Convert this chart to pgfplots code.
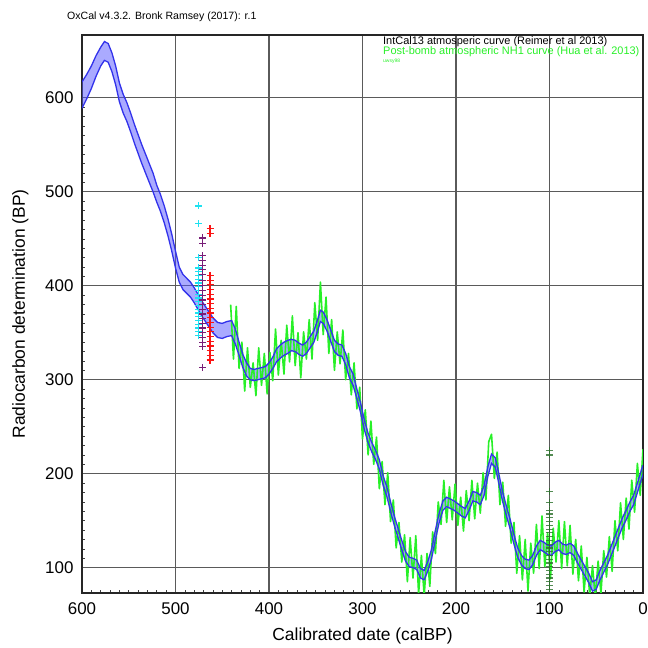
\documentclass[border=0pt]{standalone}
\usepackage{fontspec}
\setmainfont{Liberation Sans}
\usepackage{pgfplots}
\usepackage{pgfplotstable}
\pgfplotsset{compat=1.18}
\usepgfplotslibrary{fillbetween}

\definecolor{bandline}{RGB}{50,50,235}
\definecolor{bandfill}{RGB}{85,85,255}
\definecolor{nhgreen}{RGB}{40,240,40}
\definecolor{gridc}{RGB}{90,90,90}
\definecolor{mcyan}{RGB}{30,225,240}
\definecolor{mpurple}{RGB}{120,30,120}
\definecolor{mred}{RGB}{250,20,20}
\definecolor{mgreen}{RGB}{40,110,40}

% IntCal13: centre c and half width h
\pgfplotstableread{
x c h
600 603 14
595 612 13
590 622 12
585 634 11
580 644 10
576 650 10
572 648 10
568 638 10
564 624 10
560 606 10
556 594 10
552 585 10
548 574 10
544 562 10
540 551 10
536 540 10
532 530 10
528 520 10
524 510 10
520 498 9
516 488 9
512 476 9
508 462 9
504 446 9
500 428 9
496 412 8
492 404 8
488 400 8
484 396 8
480 390 8
476 383 8
472 376 8
468 370 8
464 364 8
460 358 8
455 353 8
450 352 8
445 354 8
440 355 8
436 346 8
432 333 7
428 320 7
424 311 7
420 306 6
416 305 6
412 306 6
408 307 6
404 308 6
400 312 6
396 318 6
392 326 7
388 330 7
384 333 7
380 335 7
376 337 6
372 336 6
368 333 6
364 331 6
360 334 6
356 340 6
352 346 6
348 358 6
345 368 6
342 366 6
338 358 6
334 347 6
330 336 6
326 332 6
322 331 6
318 322 6
314 308 6
310 300 6
306 285 5
302 270 5
298 252 5
294 238 5
290 228 5
286 220 5
282 210 5
278 193 5
274 181 5
270 165 5
266 150 5
262 137 5
258 124 5
254 112 5
250 106 5
246 105 5
242 103 5
238 94 5
234 92 5
230 102 5
226 115 5
222 135 5
218 153 5
214 166 5
210 170 5
206 168 5
202 166 5
198 163 5
194 160 5
190 158 5
186 166 5
182 176 5
178 175 5
174 172 5
170 182 5
166 202 5
162 216 5
158 212 5
154 194 5
150 175 5
146 160 5
142 146 5
138 130 5
134 116 5
130 108 5
126 104 5
122 103 5
118 108 5
114 118 5
110 124 5
106 122 5
102 119 5
98 118 5
94 122 5
90 124 5
86 120 5
82 119 5
78 121 5
74 118 5
70 110 5
66 103 5
62 96 5
58 89 5
54 80 5
50 82 5
46 92 5
42 100 5
38 108 5
34 118 5
30 128 5
26 138 5
22 148 5
18 156 5
14 165 5
10 172 5
6 185 5
2 198 5
0 204 5
}\band

% post-bomb NH1 curve
\pgfplotstableread{
x y
441 380
438 322
435 378
432 312
429 340
426 288
423 334
420 292
417 318
414 283
411 334
408 294
405 328
402 285
399 329
396 299
393 354
390 305
387 342
384 306
381 358
378 319
375 368
372 315
369 350
366 302
363 351
360 322
357 364
354 322
351 382
348 342
345 404
342 348
339 388
336 328
333 364
330 310
327 351
324 317
321 353
318 300
315 328
312 284
309 318
306 269
303 292
300 237
297 268
294 220
291 256
288 210
285 239
282 184
279 213
276 167
273 201
270 149
267 172
264 121
261 148
258 106
255 135
252 85
249 132
246 89
243 134
240 72
237 113
234 70
231 115
228 80
225 138
222 115
219 170
216 146
213 193
210 148
207 186
204 151
201 189
198 145
195 175
192 139
189 182
186 150
183 193
180 152
177 190
174 158
171 201
168 172
165 234
162 242
159 195
156 223
153 167
150 191
147 144
144 177
141 126
138 148
135 94
132 134
129 87
126 130
123 75
120 126
117 94
114 146
111 99
108 155
105 101
102 137
99 88
96 142
93 106
90 150
87 99
84 149
81 102
78 145
75 93
72 130
69 86
66 123
63 74
60 111
57 70
54 102
51 68
48 107
45 72
42 118
39 90
36 133
33 96
30 150
27 118
24 169
21 130
18 174
15 141
12 193
9 159
6 211
3 177
0 226
}\nhone

\begin{document}
\begin{tikzpicture}
\begin{axis}[
  scale only axis,
  width=561bp, height=558bp,
  x dir=reverse,
  xmin=0, xmax=600, ymin=73, ymax=667,
  xtick={0,100,...,600}, ytick={100,200,...,600},
  minor x tick num=9, minor y tick num=9,
  xtick pos=bottom, ytick pos=left,
  tick align=inside,
  major tick length=0pt, minor tick length=3bp,
  minor tick style={black!75, line width=0.6bp},
  grid=major,
  major grid style={gridc, line width=1.1bp},
  axis line style={black!85, line width=1.4bp},
  ticklabel style={font=\fontsize{17}{20}\selectfont},
  xticklabel style={yshift=-6bp},
  yticklabel style={xshift=-5bp},
  /pgf/number format/assume math mode=true,
  xlabel={Calibrated date (calBP)},
  ylabel={Radiocarbon determination (BP)},
  label style={font=\fontsize{17.5}{21}\selectfont},
  xlabel style={yshift=-7bp},
  ylabel style={yshift=10bp},
  clip=true,
]
\addplot[nhgreen, line width=1.6bp, line join=round] table[x=x, y=y] {\nhone};

\addplot[name path=up, draw=none] table[x=x, y expr=\thisrow{c}+\thisrow{h}] {\band};
\addplot[name path=lo, draw=none] table[x=x, y expr=\thisrow{c}-\thisrow{h}] {\band};
\addplot[fill=bandfill, fill opacity=0.5, draw=none] fill between[of=up and lo];
\addplot[bandline, line width=1.3bp] table[x=x, y expr=\thisrow{c}+\thisrow{h}] {\band};
\addplot[bandline, line width=1.3bp] table[x=x, y expr=\thisrow{c}-\thisrow{h}] {\band};

\addplot[only marks, mark=+, mark size=3.5bp, mcyan, line width=1.2bp] coordinates {
(475,485) (475,466) (475,430) (475,419) (475,415) (475,411) (475,407) (475,403)
(475,399) (475,395) (475,391) (475,387) (475,383) (475,379) (475,375) (475,371)
(475,367) (475,363) (475,359) (475,355) (475,351) (475,347)};
\addplot[only marks, mark=+, mark size=3.5bp, mpurple, line width=1.2bp] coordinates {
(471,451) (471,445) (471,432) (471,427) (471,422) (471,417) (471,412) (471,406)
(471,400) (471,395) (471,390) (471,385) (471,380) (471,375) (471,370) (471,365)
(471,360) (471,355) (471,350) (471,345) (471,340) (471,335) (471,313)};
\addplot[only marks, mark=+, mark size=3.5bp, mred, line width=1.2bp] coordinates {
(463,461) (463,456) (463,411) (463,406) (463,401) (463,396) (463,391) (463,386)
(463,381) (463,376) (463,371) (463,366) (463,361) (463,356) (463,351) (463,346)
(463,341) (463,336) (463,331) (463,326) (463,321)};
\addplot[only marks, mark=+, mark size=3.5bp, mgreen, opacity=0.8, line width=1.2bp] coordinates {
(100,225) (100,220) (100,181) (100,169) (100,161) (100,157) (100,153) (100,149)
(100,145) (100,141) (100,137) (100,133) (100,129) (100,125) (100,121) (100,117)
(100,113) (100,109) (100,105) (100,101) (100,97) (100,93) (100,89) (100,85)
(100,81) (100,77)};
\end{axis}
\node[anchor=base west, font=\fontsize{10.6}{12}\selectfont, inner sep=0pt]
  at ([xshift=-15bp, yshift=15bp]current axis.north west)
  {OxCal v4.3.2. Bronk Ramsey (2017): r.1};
\node[anchor=base west, font=\fontsize{11}{12}\selectfont, inner sep=0pt]
  at ([xshift=301bp, yshift=-9.5bp]current axis.north west)
  {IntCal13 atmosperic curve (Reimer et al 2013)};
\node[anchor=base west, font=\fontsize{11}{12}\selectfont, inner sep=0pt, text=nhgreen]
  at ([xshift=301bp, yshift=-19.5bp]current axis.north west)
  {Post-bomb atmospheric NH1 curve (Hua et al. 2013)};
\node[anchor=base west, font=\fontsize{5}{6}\selectfont, inner sep=0pt, text=nhgreen]
  at ([xshift=301bp, yshift=-27.5bp]current axis.north west)
  {uwsy98};
\pgfresetboundingbox
\path[use as bounding box] ([xshift=-82bp, yshift=-55bp]current axis.south west)
  rectangle ++(648bp, 648bp);
\end{tikzpicture}
\end{document}
